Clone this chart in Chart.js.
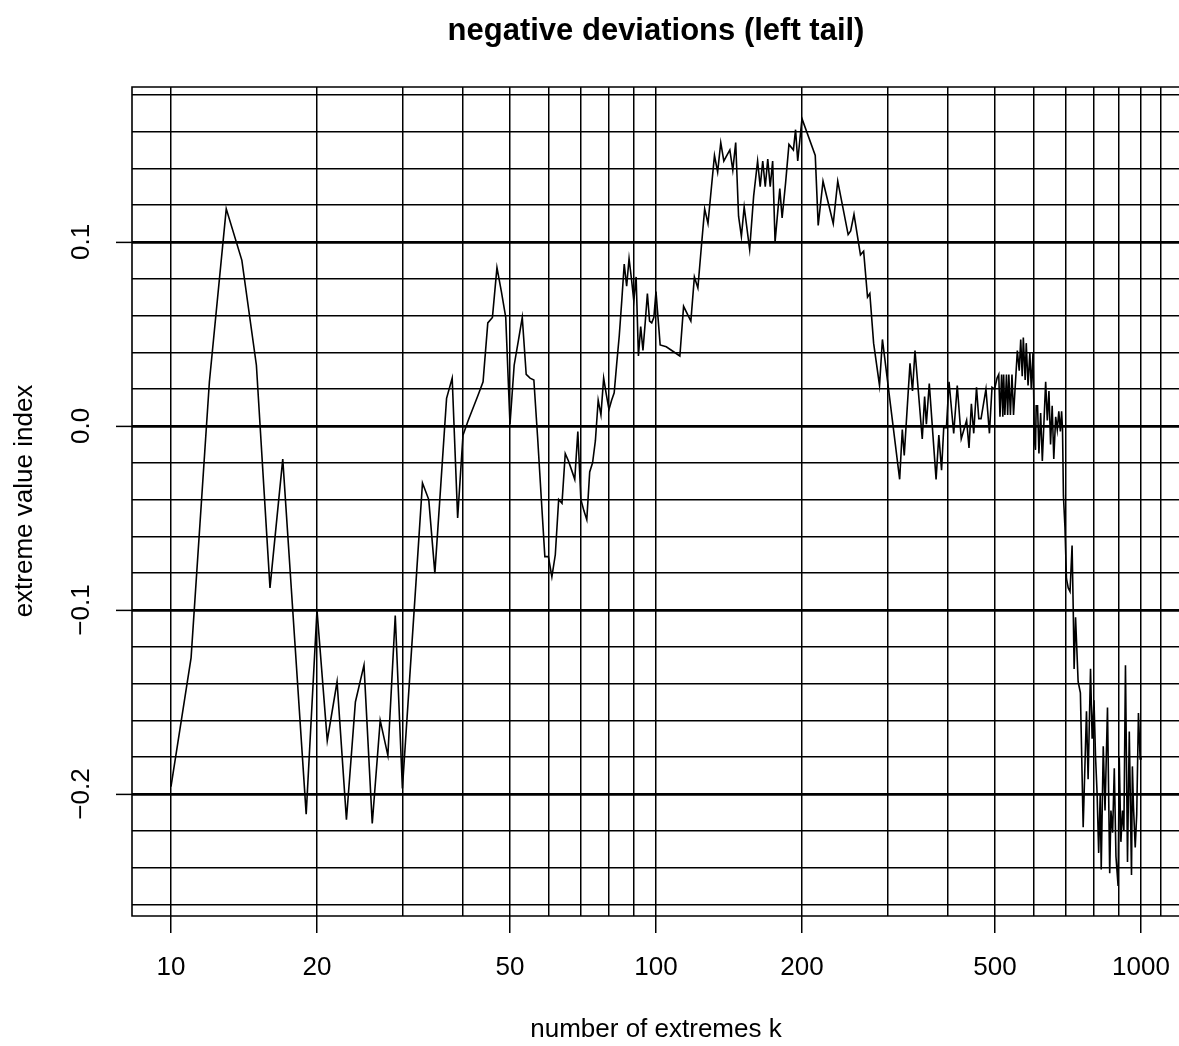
<!DOCTYPE html>
<html>
<head>
<meta charset="utf-8">
<script src="https://cdn.jsdelivr.net/npm/chart.js@4.4.1/dist/chart.umd.min.js"></script>
<style>
  html, body { margin: 0; padding: 0; background: #ffffff; }
  canvas { display: block; }
</style>
</head>
<body>
<canvas id="hillChart" width="1179" height="1046"></canvas>
<script>
// number of extremes k
const kValues = [
  10, 11, 12, 13, 14, 15, 16, 17, 18, 19, 20, 21, 22, 23, 24, 25, 26, 27, 28, 29,
  30, 31, 32, 33, 34, 35, 36, 37, 38, 39, 40, 41, 42, 43, 44, 45, 46, 47, 48, 49,
  50, 51, 52, 53, 54, 55, 56, 57, 58, 59, 60, 61, 62, 63, 64, 65, 66, 67, 68, 69,
  70, 71, 72, 73, 74, 75, 76, 77, 78, 79, 80, 81, 82, 83, 84, 85, 86, 87, 88, 89,
  90, 91, 92, 93, 94, 95, 96, 97, 98, 99, 100, 102, 105, 112, 114, 118, 120, 122, 124, 126,
  128, 132, 134, 136, 138, 142, 144, 146, 148, 150, 152, 156, 159, 162, 164, 166, 168, 170, 172, 174,
  176, 180, 182, 185, 188, 192, 194, 196, 200, 213, 216, 221, 232, 237, 249, 252, 256, 264, 268, 273,
  276, 281, 289, 293, 318, 322, 325, 334, 338, 342, 354, 358, 361, 366, 378, 383, 388, 392, 397, 402,
  411, 418, 426, 437, 442, 447, 452, 458, 463, 468, 479, 487, 493, 499, 505, 509, 512, 516, 519, 521,
  524, 528, 531, 534, 538, 542, 546, 556, 561, 565, 569, 572, 577, 580, 585, 590, 594, 599, 603, 606,
  608, 612, 616, 621, 626, 636, 641, 646, 651, 656, 661, 667, 672, 677, 682, 686, 689, 692, 697, 702,
  708, 714, 721, 725, 728, 733, 742, 750, 760, 772, 778, 787, 793, 800, 806, 812, 818, 824, 828, 836,
  843, 853, 862, 867, 874, 881, 888, 897, 902, 909, 916, 922, 929, 938, 946, 956, 960, 965, 973, 980,
  988, 996, 1000
];

// extreme value index estimate for each k
const xiValues = [
  -0.196, -0.126, 0.024, 0.118, 0.090, 0.033, -0.088, -0.018, -0.117, -0.211,
  -0.100, -0.171, -0.139, -0.214, -0.150, -0.130, -0.216, -0.160, -0.179, -0.103,
  -0.197, -0.140, -0.085, -0.031, -0.040, -0.080, -0.032, 0.015, 0.026, -0.050,
  -0.005, 0.003, 0.010, 0.017, 0.024, 0.056, 0.059, 0.086, 0.073, 0.059,
  0.001, 0.033, 0.046, 0.059, 0.028, 0.026, 0.025, -0.006, -0.039, -0.071,
  -0.071, -0.082, -0.070, -0.040, -0.042, -0.015, -0.019, -0.024, -0.029, -0.003,
  -0.040, -0.046, -0.051, -0.025, -0.020, -0.008, 0.014, 0.006, 0.026, 0.017,
  0.009, 0.014, 0.018, 0.034, 0.049, 0.068, 0.088, 0.076, 0.091, 0.080,
  0.068, 0.081, 0.038, 0.054, 0.041, 0.056, 0.072, 0.057, 0.056, 0.059,
  0.073, 0.044, 0.043, 0.038, 0.065, 0.057, 0.081, 0.075, 0.097, 0.118,
  0.110, 0.147, 0.138, 0.154, 0.144, 0.150, 0.139, 0.154, 0.114, 0.103,
  0.119, 0.096, 0.125, 0.144, 0.130, 0.144, 0.130, 0.145, 0.130, 0.144,
  0.100, 0.129, 0.113, 0.132, 0.153, 0.150, 0.161, 0.144, 0.167, 0.147,
  0.109, 0.133, 0.110, 0.133, 0.104, 0.106, 0.115, 0.093, 0.095, 0.070,
  0.072, 0.045, 0.022, 0.047, -0.029, -0.002, -0.016, 0.034, 0.019, 0.041,
  -0.007, 0.016, 0.001, 0.023, -0.029, -0.005, -0.024, -0.001, -0.001, 0.024,
  -0.004, 0.022, -0.007, 0.003, -0.012, 0.012, -0.004, 0.021, 0.004, 0.004,
  0.020, -0.004, 0.021, 0.020, 0.026, 0.028, 0.005, 0.028, 0.005, 0.028,
  0.006, 0.028, 0.006, 0.028, 0.006, 0.028, 0.006, 0.041, 0.030, 0.047,
  0.027, 0.048, 0.025, 0.045, 0.022, 0.040, 0.020, 0.040, -0.008, -0.013,
  0.011, 0.011, -0.015, 0.007, -0.019, 0.024, 0.003, 0.019, -0.010, 0.011,
  -0.018, 0.005, -0.002, 0.008, -0.003, 0.008, -0.002, -0.038, -0.055, -0.083,
  -0.088, -0.090, -0.065, -0.100, -0.132, -0.104, -0.139, -0.145, -0.218, -0.155,
  -0.192, -0.132, -0.170, -0.149, -0.180, -0.200, -0.232, -0.200, -0.241, -0.174,
  -0.209, -0.153, -0.243, -0.209, -0.221, -0.186, -0.234, -0.250, -0.180, -0.226,
  -0.209, -0.220, -0.130, -0.237, -0.166, -0.244, -0.185, -0.207, -0.229, -0.211,
  -0.156, -0.181, -0.180
];

// grid positions and tick labels
const xGridValues = [10, 20, 30, 40, 50, 60, 70, 80, 90, 100, 200, 300, 400, 500, 600, 700, 800, 900, 1000, 1100];
const xTickLabels = [10, 20, 50, 100, 200, 500, 1000];
const yGridValues = [-0.26, -0.24, -0.22, -0.20, -0.18, -0.16, -0.14, -0.12, -0.10, -0.08, -0.06, -0.04, -0.02,
  0.00, 0.02, 0.04, 0.06, 0.08, 0.10, 0.12, 0.14, 0.16, 0.18];
const yTickLabels = [-0.2, -0.1, 0.0, 0.1];
const yTickText = ['\u22120.2', '\u22120.1', '0.0', '0.1'];
const xLimits = [8.31, 1197.8];
const yLimits = [-0.2663, 0.1842];

const FONT = '"Liberation Sans", Arial, Helvetica, sans-serif';

const isLabelledX = v => xTickLabels.some(t => Math.abs(t - v) < 1e-9);
const isLabelledY = v => yTickLabels.some(t => Math.abs(t - v) < 1e-9);

const rStylePlugin = {
    id: `rStyle`,
    afterDraw(chart) {
        const ctx = chart.ctx;
        const area = chart.chartArea;
        const xScale = chart.scales.x;
        const yScale = chart.scales.y;

        ctx.save();
        // box (right side falls outside the picture in the original)
        ctx.strokeStyle = `#000`;
        ctx.lineWidth = 1.6;
        ctx.beginPath();
        ctx.moveTo(area.right + 2, area.top);
        ctx.lineTo(area.left, area.top);
        ctx.lineTo(area.left, area.bottom);
        ctx.lineTo(area.right + 2, area.bottom);
        ctx.stroke();

        ctx.fillStyle = `#000`;

        // title
        ctx.font = `bold 31px ${FONT}`;
        ctx.textAlign = `center`;
        ctx.textBaseline = `alphabetic`;
        ctx.fillText(`negative deviations (left tail)`, 656, 40);

        // x tick labels
        ctx.font = `26px ${FONT}`;
        xTickLabels.forEach(v => {
            ctx.fillText(String(v), xScale.getPixelForValue(v), 975);
        });

        // x axis title
        ctx.fillText(`number of extremes k`, 656, 1037);

        // y tick labels, rotated like R's default
        yTickLabels.forEach((v, i) => {
            ctx.save();
            ctx.translate(89, yScale.getPixelForValue(v));
            ctx.rotate(-Math.PI / 2);
            ctx.fillText(yTickText[i], 0, 0);
            ctx.restore();
        });

        // y axis title
        ctx.save();
        ctx.translate(32, 501);
        ctx.rotate(-Math.PI / 2);
        ctx.fillText(`extreme value index`, 0, 0);
        ctx.restore();

        ctx.restore();
    }
};

const points = kValues.map((k, i) => ({ x: k, y: xiValues[i] }));

const chart = new Chart(document.getElementById(`hillChart`).getContext(`2d`), {
    type: `line`,
    data: {
        datasets: [{
            data: points,
            borderColor: `#000`,
            borderWidth: 1.6,
            pointRadius: 0,
            tension: 0,
            fill: false
        }]
    },
    options: {
        responsive: false,
        animation: false,
        devicePixelRatio: 1,
        layout: { padding: { top: 87, right: 0, bottom: 0, left: 0 } },
        plugins: {
            legend: { display: false },
            tooltip: { enabled: false },
            title: { display: false }
        },
        scales: {
            x: {
                type: `logarithmic`,
                min: xLimits[0],
                max: xLimits[1],
                afterBuildTicks: scale => {
                    scale.ticks = xGridValues.map(v => ({ value: v }));
                },
                afterFit: scale => {
                    scale.height = 130;
                },
                ticks: { display: false, autoSkip: false },
                border: { display: false },
                grid: {
                    color: `#000`,
                    lineWidth: 1.5,
                    drawTicks: true,
                    tickLength: 17,
                    tickWidth: 1.5,
                    tickColor: c => (c.tick && isLabelledX(c.tick.value)) ? `#000` : `rgba(0,0,0,0)`
                }
            },
            y: {
                type: `linear`,
                min: yLimits[0],
                max: yLimits[1],
                afterBuildTicks: scale => {
                    scale.ticks = yGridValues.map(v => ({ value: v }));
                },
                afterFit: scale => {
                    scale.width = 132;
                },
                ticks: { display: false },
                border: { display: false },
                grid: {
                    color: `#000`,
                    lineWidth: c => (c.tick && isLabelledY(c.tick.value)) ? 2.8 : 1.5,
                    drawTicks: true,
                    tickLength: 16,
                    tickWidth: 1.5,
                    tickColor: c => (c.tick && isLabelledY(c.tick.value)) ? `#000` : `rgba(0,0,0,0)`
                }
            }
        }
    },
    plugins: [rStylePlugin]
});
</script>
</body>
</html>
